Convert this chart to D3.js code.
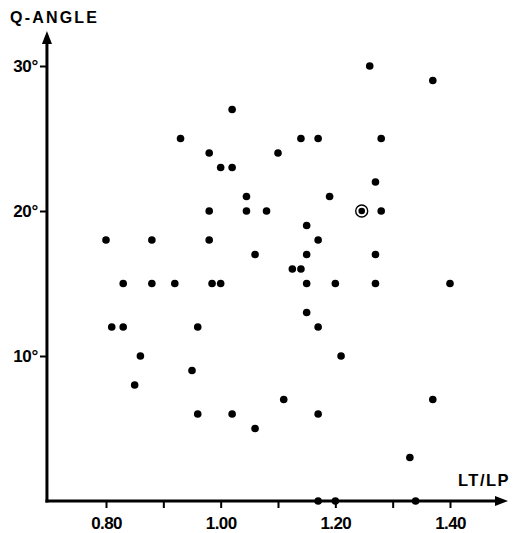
<!DOCTYPE html>
<html>
<head>
<meta charset="utf-8">
<script src="https://cdn.jsdelivr.net/npm/d3@7"></script>
<style>
  body { margin: 0; background: #fff; }
  text { font-family: "Liberation Sans", Arial, sans-serif; font-weight: bold; fill: #000; }
</style>
</head>
<body>
<div id="chart"></div>
<script>
// LT/LP ratio against Q-angle (degrees)
const ltlp = [0.80, 0.81, 0.83, 0.83, 0.85, 0.86, 0.88, 0.88, 0.92, 0.93,
  0.95, 0.96, 0.96, 0.98, 0.98, 0.98, 0.985, 1.00, 1.00, 1.02,
  1.02, 1.02, 1.045, 1.045, 1.06, 1.06, 1.08, 1.10, 1.11, 1.125,
  1.14, 1.14, 1.15, 1.15, 1.15, 1.15, 1.17, 1.17, 1.17, 1.17,
  1.17, 1.19, 1.20, 1.20, 1.21, 1.26, 1.27, 1.27, 1.27, 1.28,
  1.28, 1.33, 1.34, 1.37, 1.37, 1.40];
const qAngle = [18, 12, 15, 12, 8, 10, 15, 18, 15, 25,
  9, 12, 6, 24, 20, 18, 15, 15, 23, 23,
  27, 6, 21, 20, 17, 5, 20, 24, 7, 16,
  16, 25, 19, 17, 15, 13, 25, 18, 12, 6,
  0, 21, 15, 0, 10, 30, 22, 17, 15, 20,
  25, 3, 0, 29, 7, 15];
// the one ringed case
const marked = [{x: 1.246, y: 20}];

const xTicks = [0.8, 0.9, 1.0, 1.1, 1.2, 1.3, 1.4];
const xLabels = ["0.80", "", "1.00", "", "1.20", "", "1.40"];
const yTicks = [10, 20, 30];

const points = ltlp.map((v, i) => ({x: v, y: qAngle[i]}));

const width = 522, height = 533;

const svg = d3.select("#chart")
  .append("svg")
  .attr("width", width)
  .attr("height", height);

const x = d3.scaleLinear().domain([0.8, 1.4]).range([106, 450]);
const y = d3.scaleLinear().domain([0, 30]).range([501, 66]);

const x0 = x(0.697), y0 = y(0);

// x axis ticks + labels
const gx = svg.append("g")
  .attr("transform", `translate(0,${y0})`)
  .call(d3.axisBottom(x)
    .tickValues(xTicks)
    .tickSize(7)
    .tickPadding(9)
    .tickFormat((d, i) => xLabels[i]));
gx.select(".domain").remove();
gx.selectAll(".tick line").attr("stroke", "#000").attr("stroke-width", 2);
gx.selectAll(".tick text")
  .attr("font-size", 17)
  .attr("font-family", null)
  .style("letter-spacing", "-0.6px");

// y axis ticks + labels
const gy = svg.append("g")
  .attr("transform", `translate(${x0},0)`)
  .call(d3.axisLeft(y)
    .tickValues(yTicks)
    .tickSize(7)
    .tickPadding(2)
    .tickFormat(d => `${d}°`));
gy.select(".domain").remove();
gy.selectAll(".tick line").attr("stroke", "#000").attr("stroke-width", 2);
gy.selectAll(".tick text")
  .attr("font-size", 17)
  .attr("font-family", null)
  .style("letter-spacing", "-0.3px");

// axis lines with arrows
svg.append("line")
  .attr("x1", x0).attr("y1", y0 + 1.5)
  .attr("x2", x0).attr("y2", 42)
  .attr("stroke", "#000").attr("stroke-width", 3);
svg.append("path")
  .attr("d", `M${x0},31 L${x0 - 5},44 L${x0 + 5},44 Z`)
  .attr("fill", "#000");

svg.append("line")
  .attr("x1", x0 - 1.5).attr("y1", y0)
  .attr("x2", 498).attr("y2", y0)
  .attr("stroke", "#000").attr("stroke-width", 3);
svg.append("path")
  .attr("d", `M508,${y0} L495,${y0 - 5} L495,${y0 + 5} Z`)
  .attr("fill", "#000");

// axis titles
svg.append("text")
  .attr("x", 10).attr("y", 23)
  .attr("font-size", 16)
  .style("letter-spacing", "2.2px")
  .text("Q-ANGLE");

svg.append("text")
  .attr("x", 458).attr("y", 486)
  .attr("font-size", 16.5)
  .style("letter-spacing", "1.5px")
  .text("LT/LP");

// dots
svg.append("g")
  .selectAll("circle")
  .data(points)
  .enter()
  .append("circle")
  .attr("cx", d => x(d.x))
  .attr("cy", d => y(d.y))
  .attr("r", 3.8)
  .attr("fill", "#000");

const ring = svg.append("g")
  .selectAll("g")
  .data(marked)
  .enter()
  .append("g")
  .attr("transform", d => `translate(${x(d.x)},${y(d.y)})`);
ring.append("circle").attr("r", 6).attr("fill", "none").attr("stroke", "#000").attr("stroke-width", 1.4);
ring.append("circle").attr("r", 3.3).attr("fill", "#000");
</script>
</body>
</html>
